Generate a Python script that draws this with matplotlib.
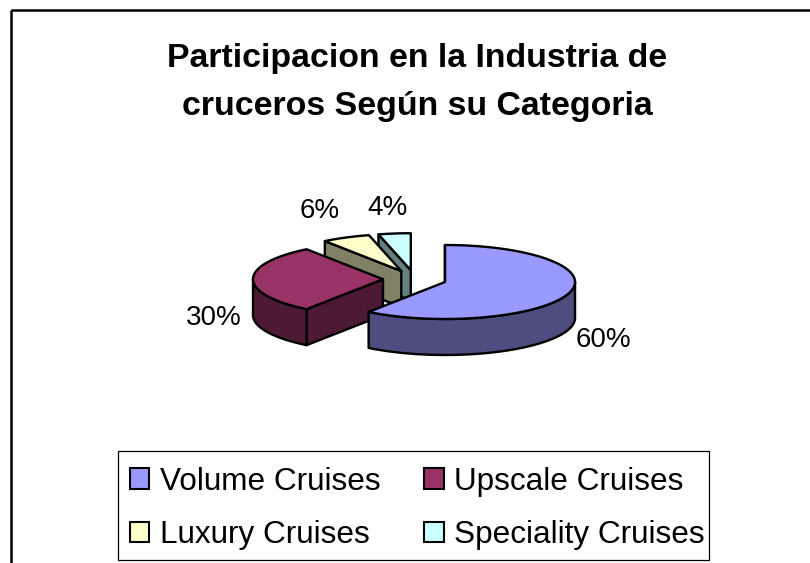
import numpy as np
import matplotlib
matplotlib.use("Agg")
import matplotlib.pyplot as plt
from matplotlib.patches import Polygon, Rectangle

categories = ["Volume Cruises", "Upscale Cruises", "Luxury Cruises", "Speciality Cruises"]
values = [60, 30, 6, 4]
pct_labels = ["60%", "30%", "6%", "4%"]
title_lines = ["Participacion en la Industria de", "cruceros Según su Categoria"]

top_colors = ["#9999FF", "#993366", "#FFFFCC", "#CCFFFF"]
side_colors = ["#4D4D80", "#4D1933", "#808066", "#668080"]

plt.rcParams["font.family"] = ["Liberation Sans", "DejaVu Sans"]

W, H = 810, 563
fig = plt.figure(figsize=(W / 100, H / 100), dpi=100)
ax = fig.add_axes([0, 0, 1, 1])
ax.set_xlim(0, W)
ax.set_ylim(H, 0)
ax.axis("off")

# chart-area border: its right and bottom sides fall outside the picture
ax.add_patch(Rectangle((11, 10), 820, 570, fill=False, ec="black", lw=1.8))

# projected pie geometry
cx0, cy0 = 414.8, 279.2
rx, ry = 130.0, 37.0
depth = 36.0
explode = 31.8
LW = 1.7


def rim(center, deg):
    a = np.deg2rad(np.asarray(deg, dtype=float))
    return np.column_stack([center[0] + rx * np.sin(a), center[1] - ry * np.cos(a)])


fr = np.array(values, dtype=float) / sum(values) * 360
starts = np.concatenate([[0], np.cumsum(fr)[:-1]])
ends = starts + fr
mids = (starts + ends) / 2
centers = [
    (cx0 + explode * np.sin(np.deg2rad(m)), cy0 - explode * ry / rx * np.cos(np.deg2rad(m)))
    for m in mids
]
drop = np.array([0, depth])
# back to front: speciality, luxury, upscale, volume
for i in [3, 2, 1, 0]:
    s, e, c = starts[i], ends[i], np.array(centers[i])
    z = 3 + (3 - i)
    # cut face at the start edge of the wedge
    p = rim(c, [s])[0]
    ax.add_patch(Polygon([c, p, p + drop, c + drop], closed=True, fc=side_colors[i],
                         ec="black", lw=LW, joinstyle="round", zorder=z))
    # outer side, the part in front of the pie (90..270 degrees)
    a0, a1 = max(s, 90), min(e, 270)
    if a1 > a0:
        arc = rim(c, np.linspace(a0, a1, 60))
        ax.add_patch(Polygon(np.vstack([arc, (arc + drop)[::-1]]), closed=True, fc=side_colors[i],
                             ec="black", lw=LW, joinstyle="round", zorder=z))
    # top
    arc = rim(c, np.linspace(s, e, 80))
    ax.add_patch(Polygon(np.vstack([c, arc]), closed=True, fc=top_colors[i], ec="black",
                         lw=LW, joinstyle="round", zorder=z + 0.5))

# percent labels
label_pos = [(603, 340), (214, 318), (320, 211), (387, 208)]
for lab, (x, y) in zip(pct_labels, label_pos):
    ax.text(x, y, lab, fontsize=20, ha="center", va="center", color="black", zorder=10)

for line, y in zip(title_lines, [58, 107]):
    ax.text(417, y, line, fontsize=24.4, fontweight="bold", ha="center", va="center", color="black")

# legend: frame drawn separately so its padding can differ per side
ax.add_patch(Rectangle((118, 451), 591, 109, fc="white", ec="black", lw=0.9, zorder=5))
order = [0, 2, 1, 3]
leg_handles = [Rectangle((0, 0), 1, 1, fc=top_colors[i], ec="black", lw=1.5) for i in order]
leg = ax.legend(leg_handles, [categories[i] for i in order], ncol=2, loc="lower left",
                bbox_to_anchor=(129.5, 550), bbox_transform=ax.transData, borderaxespad=0,
                fontsize=22.7, frameon=False,
                handlelength=0.63, handleheight=0.63, handletextpad=0.33, columnspacing=1.38,
                labelspacing=0.74, borderpad=0)
leg.set_zorder(6)

fig.savefig("out.png", dpi=100)
